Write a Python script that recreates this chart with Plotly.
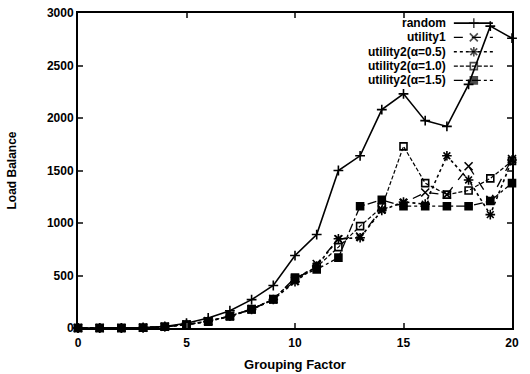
import plotly.graph_objects as go

grouping = list(range(21))
random_lb = [0, 0, 0, 5, 15, 45, 95, 165, 270, 405, 690, 890, 1500, 1640, 2080, 2230, 1975, 1920, 2320, 2875, 2760]
utility1 = [0, 0, 0, 3, 12, 33, 65, 115, 180, 275, 450, 610, 845, 870, 1130, 1190, 1290, 1270, 1540, 1220, 1610]
util2_a05 = [0, 0, 0, 3, 12, 33, 65, 112, 176, 271, 440, 590, 850, 860, 1120, 1200, 1180, 1640, 1410, 1080, 1600]
util2_a10 = [0, 0, 0, 3, 12, 33, 65, 115, 180, 275, 470, 580, 770, 970, 1150, 1730, 1380, 1270, 1310, 1425, 1590]
util2_a15 = [0, 0, 0, 3, 12, 30, 60, 110, 176, 271, 480, 557, 670, 1160, 1220, 1160, 1160, 1160, 1160, 1210, 1380]
x_ticks = [0, 5, 10, 15, 20]
y_ticks = [0, 500, 1000, 1500, 2000, 2500, 3000]

names = ["random", "utility1", "utility2(\u03b1=0.5)", "utility2(\u03b1=1.0)", "utility2(\u03b1=1.5)"]
series = [random_lb, utility1, util2_a05, util2_a10, util2_a15]
dashes = ["solid", "dash", "dot", "4px,2px", "dashdot"]
symbols = ["cross-thin-open", "x-thin-open", "asterisk-open", "square-open", "square"]
sizes = [7, 8, 8, 7, 7]
widths = [1.6, 1.3, 1.6, 1.2, 1.3]

FONT = "Liberation Sans, Arial, sans-serif"
fig = go.Figure()
for n, s, d, sym, sz, w in zip(names, series, dashes, symbols, sizes, widths):
    fig.add_trace(go.Scatter(
        x=grouping, y=s, name=n, mode="lines+markers", showlegend=False,
        line=dict(color="black", width=w, dash=d),
        marker=dict(symbol=sym, size=sz, color="black", line=dict(color="black", width=1.6)),
        cliponaxis=False,
    ))

# custom key (text left, sample right), positioned in paper units
KEY_TEXT_X = 0.850
KEY_LINE_X0, KEY_LINE_X1, KEY_MARK_X = 0.866, 0.956, 0.912
KEY_TOP, KEY_STEP = 0.968, 0.0455
rows = [KEY_TOP - i * KEY_STEP for i in range(len(names))]
for n, d, w, r in zip(names, dashes, widths, rows):
    fig.add_annotation(x=KEY_TEXT_X, y=r, xref="paper", yref="paper", text=n, showarrow=False,
                       xanchor="right", yanchor="middle", borderpad=0,
                       font=dict(family=FONT, size=12, color="black", weight=700))
    fig.add_shape(type="line", xref="paper", yref="paper", x0=KEY_LINE_X0, x1=KEY_LINE_X1, y0=r, y1=r,
                  line=dict(color="black", width=w, dash=d))
fig.add_trace(go.Scatter(
    x=[KEY_MARK_X] * len(names), y=rows, xaxis="x2", yaxis="y2", mode="markers", showlegend=False,
    hoverinfo="skip",
    marker=dict(symbol=symbols, size=sizes, color="black", line=dict(color="black", width=1.6)),
    cliponaxis=False,
))

font = dict(family=FONT, size=12, color="black", weight=700)
tfont = dict(family=FONT, size=13, color="black", weight=700)
fig.update_layout(
    width=530, height=374,
    margin=dict(l=78, r=18, t=13, b=46),
    paper_bgcolor="white", plot_bgcolor="white",
    font=font,
    showlegend=False,
    xaxis=dict(range=[0, 20], tickvals=x_ticks, ticks="inside", ticklen=5, tickwidth=1.5,
               showline=True, linewidth=2, linecolor="black", mirror="allticks", showgrid=False,
               zeroline=False, automargin=False, ticklabeloverflow="allow", ticklabelstandoff=3,
               title=dict(text="Grouping Factor", standoff=10, font=tfont)),
    yaxis=dict(range=[0, 3000], tickvals=y_ticks, ticks="inside", ticklen=5,
               tickwidth=1.5, showline=True, linewidth=2, linecolor="black", mirror="allticks",
               showgrid=False, zeroline=False, automargin=False, ticklabeloverflow="allow",
               title=dict(text="Load Balance", standoff=28, font=font)),
    xaxis2=dict(overlaying="x", range=[0, 1], visible=False),
    yaxis2=dict(overlaying="y", range=[0, 1], visible=False),
)
fig.write_html("out.html", config={"displayModeBar": False},
               post_script="document.body.style.margin='0';")
